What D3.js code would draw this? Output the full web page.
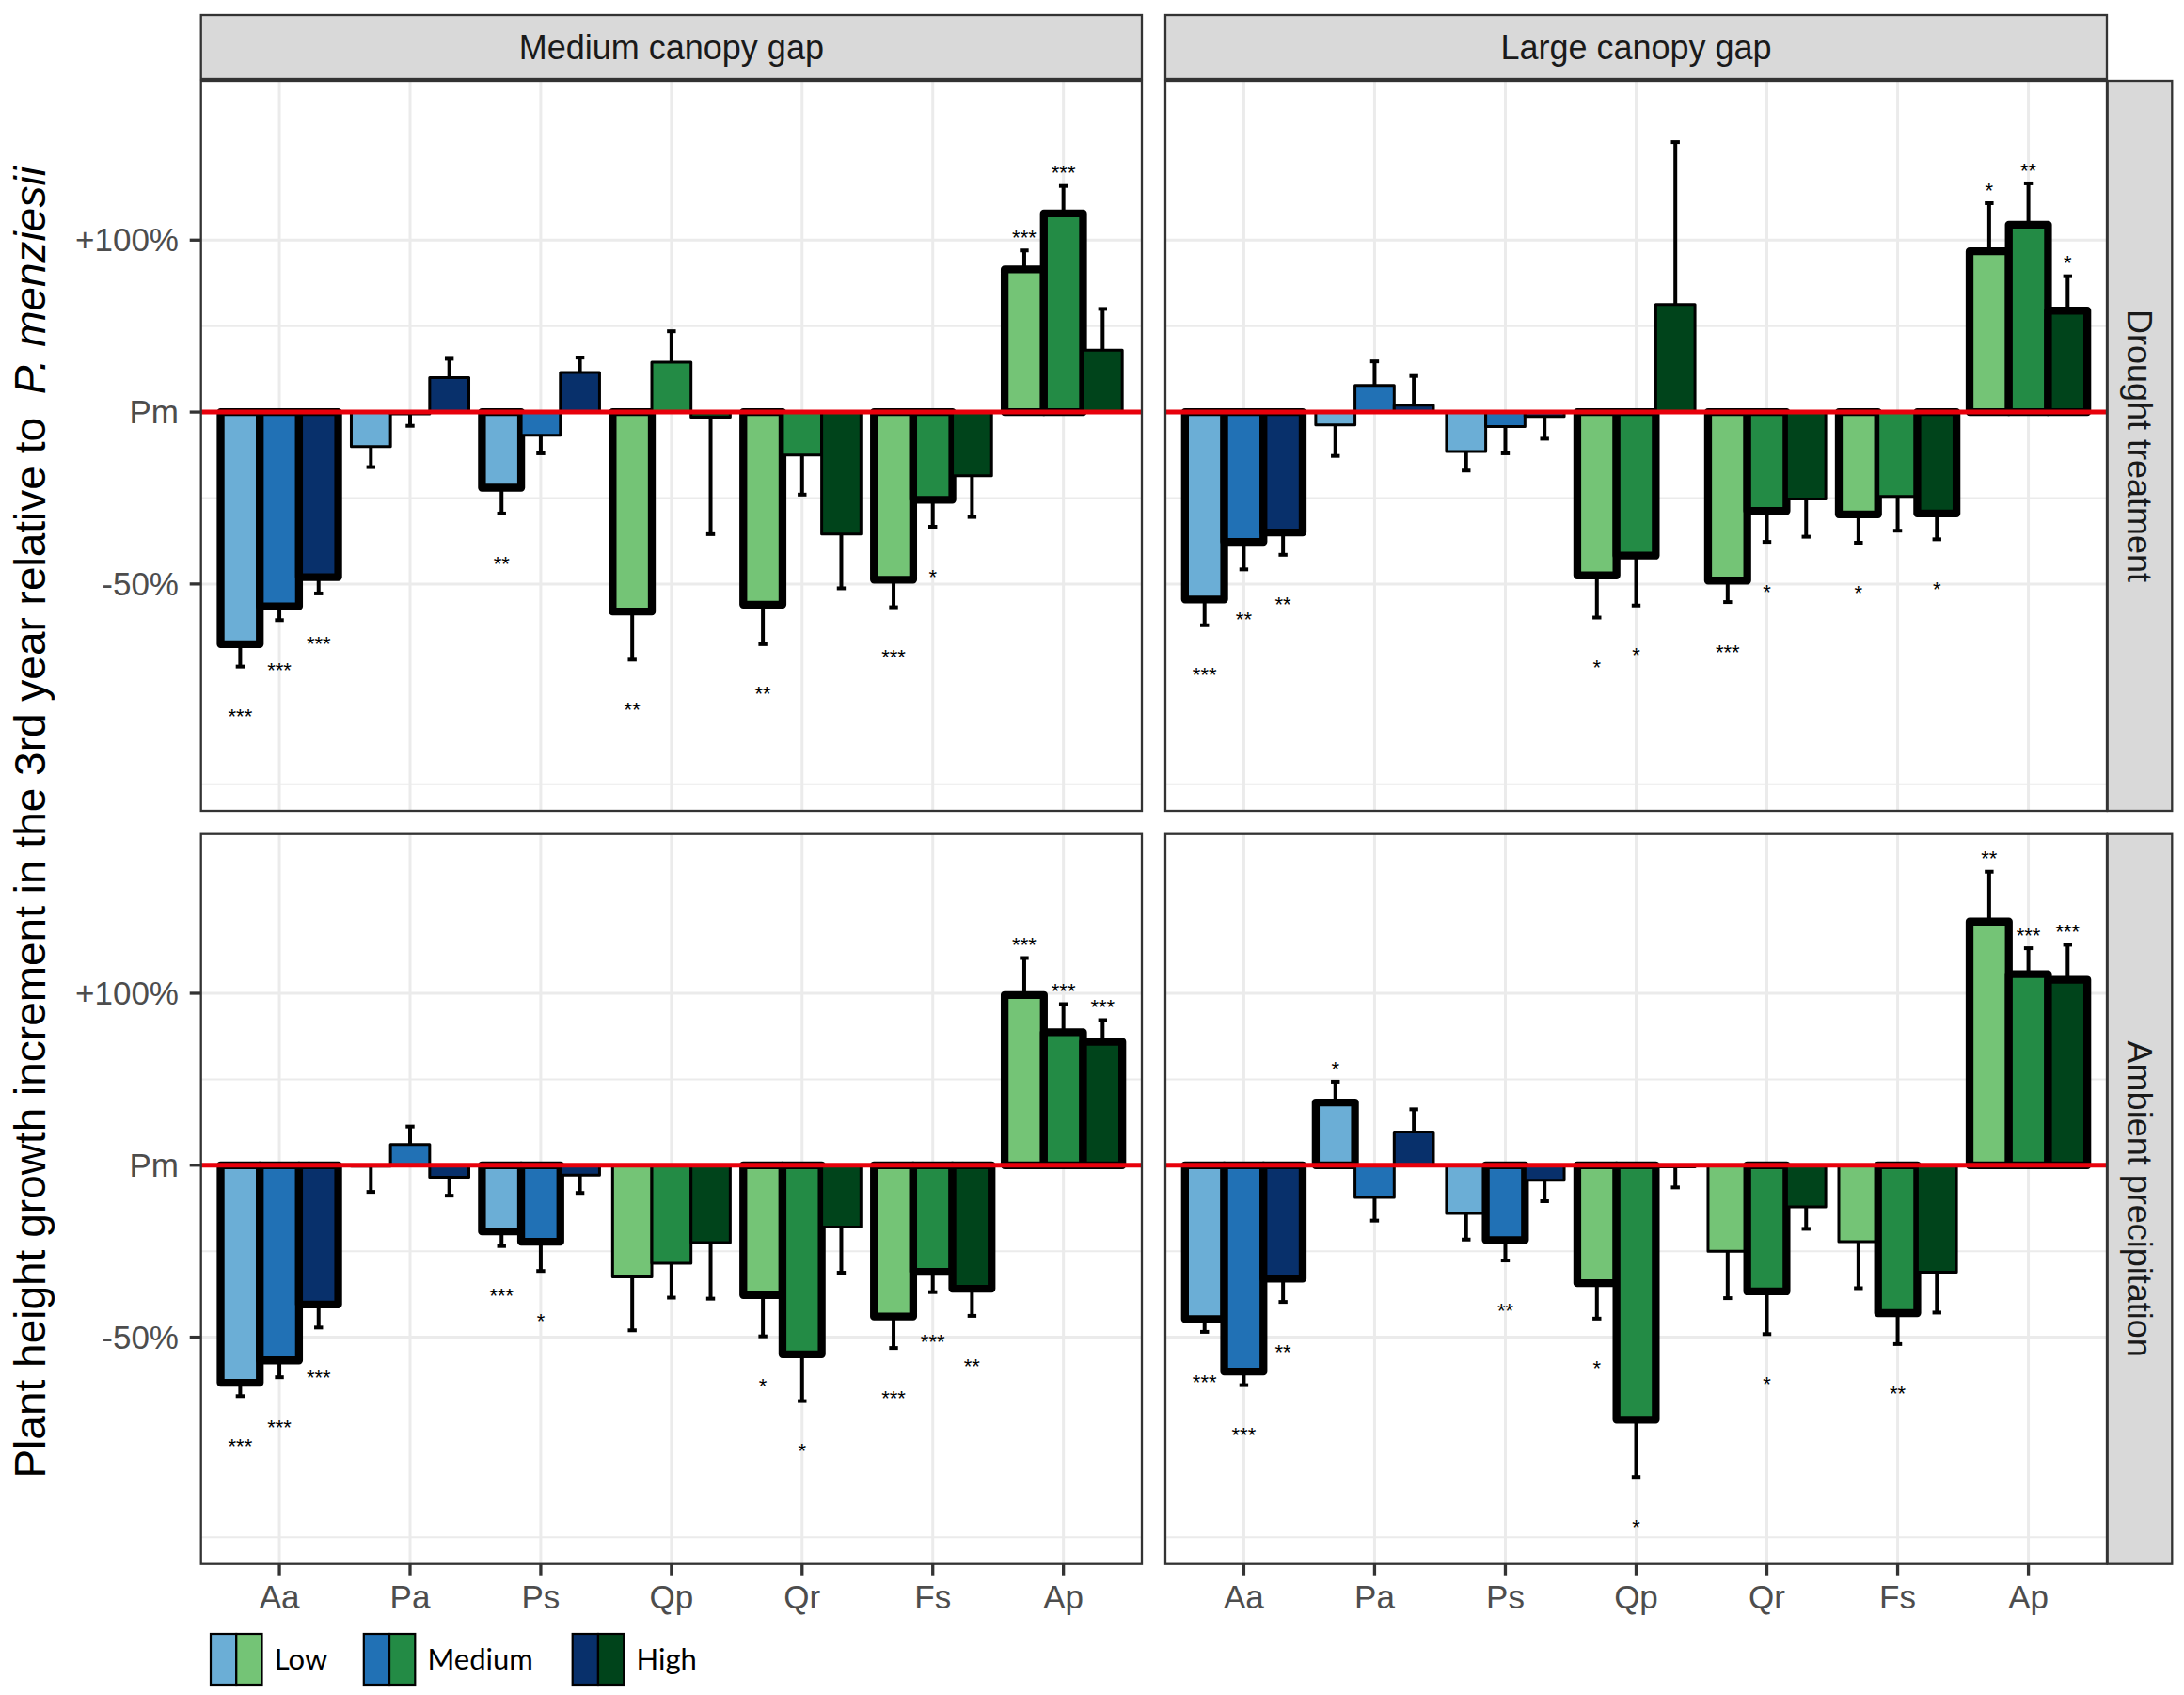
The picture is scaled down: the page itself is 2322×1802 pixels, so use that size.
<!DOCTYPE html>
<html><head><meta charset="utf-8">
<script src="https://cdn.jsdelivr.net/npm/d3@7"></script>
<style>html,body{margin:0;padding:0;background:#fff;} svg{display:block;}</style>
</head><body>
<svg id="chart" width="2322" height="1802"></svg>
<script>
// ---------------- data ----------------
const species = ["Aa","Pa","Ps","Qp","Qr","Fs","Ap"];
const levels = ["Low","Medium","High"];
const gapLabels = ["Medium canopy gap","Large canopy gap"];
const treatmentLabels = ["Drought treatment","Ambient precipitation"];
const blueSpecies = ["Aa","Pa","Ps"];
const blues = ["#6BAED6","#2171B5","#08306B"];
const greens = ["#74C476","#238B45","#00441B"];
const yTickValues = [1, 0, -1];            // log2 ratio to P. menziesii
const yTickLabels = ["+100%","Pm","-50%"];
const yMinorValues = [0.5, -0.5, -1.5/Math.LN2];

// values: log2 growth ratio vs P. menziesii; rows = species, cols = Low/Medium/High
const droughtMediumValues = [
 [-1.35,-1.13,-0.96],[-0.20,-0.01,0.20],[-0.44,-0.135,0.23],[-1.16,0.29,-0.03],
 [-1.12,-0.25,-0.71],[-0.975,-0.51,-0.37],[0.83,1.155,0.36]];
const droughtMediumErrors = [
 [0.13,0.08,0.095],[0.12,0.07,0.11],[0.15,0.105,0.087],[0.28,0.18,0.68],
 [0.23,0.23,0.315],[0.16,0.157,0.24],[0.11,0.16,0.24]];
const droughtMediumStars = [
 ["***","***","***"],["","",""],["**","",""],["**","",""],["**","",""],["***","*",""],["***","***",""]];

const droughtLargeValues = [
 [-1.09,-0.755,-0.70],[-0.075,0.155,0.04],[-0.23,-0.085,-0.025],[-0.95,-0.835,0.625],
 [-0.98,-0.575,-0.505],[-0.595,-0.49,-0.59],[0.935,1.09,0.59]];
const droughtLargeErrors = [
 [0.15,0.16,0.13],[0.18,0.14,0.17],[0.11,0.155,0.13],[0.245,0.29,0.945],
 [0.125,0.18,0.22],[0.165,0.20,0.15],[0.28,0.24,0.20]];
const droughtLargeStars = [
 ["***","**","**"],["","",""],["","",""],["*","*",""],["***","*",""],["*","","*"],["*","**","*"]];

const ambientMediumValues = [
 [-1.265,-1.135,-0.81],[-0.005,0.12,-0.07],[-0.385,-0.445,-0.057],[-0.65,-0.57,-0.45],
 [-0.755,-1.10,-0.36],[-0.88,-0.62,-0.718],[0.99,0.773,0.718]];
const ambientMediumErrors = [
 [0.078,0.098,0.134],[0.15,0.105,0.107],[0.085,0.17,0.104],[0.31,0.20,0.326],
 [0.24,0.272,0.265],[0.183,0.118,0.158],[0.215,0.164,0.126]];
const ambientMediumStars = [
 ["***","***","***"],["","",""],["***","*",""],["","",""],["*","*",""],["***","***","**"],["***","***","***"]];

const ambientLargeValues = [
 [-0.895,-1.20,-0.66],[0.365,-0.187,0.193],[-0.28,-0.435,-0.087],[-0.686,-1.48,-0.01],
 [-0.50,-0.734,-0.242],[-0.444,-0.86,-0.622],[1.417,1.111,1.079]];
const ambientLargeErrors = [
 [0.074,0.079,0.135],[0.121,0.135,0.132],[0.152,0.119,0.122],[0.206,0.333,0.119],
 [0.273,0.248,0.128],[0.271,0.18,0.235],[0.29,0.151,0.203]];
const ambientLargeStars = [
 ["***","***","**"],["*","",""],["","**",""],["*","*",""],["","*",""],["","**",""],["**","***","***"]];

// ---------------- layout ----------------
const colX = [[213.7,1214],[1239,2240]];
const rowY = [[86,862],[886.7,1662.7]];
const stripTop = [16,84];
const stripRight = [2240.7,2309.3];
const yDomain = [-2.319, 1.926];
const axisFont = "'Liberation Sans', Arial, Helvetica, sans-serif";

const panels = [
 {row:0,col:0,v:droughtMediumValues,e:droughtMediumErrors,s:droughtMediumStars},
 {row:0,col:1,v:droughtLargeValues,e:droughtLargeErrors,s:droughtLargeStars},
 {row:1,col:0,v:ambientMediumValues,e:ambientMediumErrors,s:ambientMediumStars},
 {row:1,col:1,v:ambientLargeValues,e:ambientLargeErrors,s:ambientLargeStars}
];

const svg = d3.select("#chart");
svg.append("rect").attr("width",2322).attr("height",1802).attr("fill","#fff");

panels.forEach(p => {
  const [x0,x1] = colX[p.col], [y0,y1] = rowY[p.row];
  const x = d3.scalePoint().domain(species).range([x0,x1]).padding(0.6);
  const y = d3.scaleLinear().domain(yDomain).range([y1,y0]);
  const step = x.step(), bw = 0.3*step;
  const g = svg.append("g");
  g.append("rect").attr("x",x0).attr("y",y0).attr("width",x1-x0).attr("height",y1-y0).attr("fill","#fff");
  // grid
  g.selectAll(".minor").data(yMinorValues).join("line")
    .attr("x1",x0).attr("x2",x1).attr("y1",d=>y(d)).attr("y2",d=>y(d))
    .attr("stroke","#EBEBEB").attr("stroke-width",2);
  g.selectAll(".majh").data(yTickValues).join("line")
    .attr("x1",x0).attr("x2",x1).attr("y1",d=>y(d)).attr("y2",d=>y(d))
    .attr("stroke","#EBEBEB").attr("stroke-width",3);
  g.selectAll(".majv").data(species).join("line")
    .attr("x1",d=>x(d)).attr("x2",d=>x(d)).attr("y1",y0).attr("y2",y1)
    .attr("stroke","#EBEBEB").attr("stroke-width",3);

  const recs = [];
  species.forEach((sp,i) => levels.forEach((lv,j) => {
    const pal = blueSpecies.includes(sp) ? blues : greens;
    recs.push({sp, j, v:p.v[i][j], e:p.e[i][j], star:p.s[i][j], fill:pal[j],
               cx: x(sp) + (j-1)*bw});
  }));
  // bars
  g.selectAll(".bar").data(recs).join("rect")
    .attr("x",d=>d.cx-bw/2).attr("width",bw)
    .attr("y",d=>Math.min(y(d.v),y(0))).attr("height",d=>Math.abs(y(d.v)-y(0)))
    .attr("fill",d=>d.fill).attr("stroke","#000")
    .attr("stroke-width",d=>d.star ? 8.3 : 3).attr("stroke-linejoin","round");
  // error bars
  const endV = d => d.v + (d.v >= 0 ? d.e : -d.e);
  g.selectAll(".eb").data(recs).join("line")
    .attr("x1",d=>d.cx).attr("x2",d=>d.cx).attr("y1",d=>y(d.v)).attr("y2",d=>y(endV(d)))
    .attr("stroke","#000").attr("stroke-width",4);
  g.selectAll(".cap").data(recs).join("line")
    .attr("x1",d=>d.cx-4.7).attr("x2",d=>d.cx+4.7).attr("y1",d=>y(endV(d))).attr("y2",d=>y(endV(d)))
    .attr("stroke","#000").attr("stroke-width",4);
  // reference line
  g.append("line").attr("x1",x0).attr("x2",x1).attr("y1",y(0)).attr("y2",y(0))
    .attr("stroke","#E8000B").attr("stroke-width",5);
  // stars
  g.selectAll(".star").data(recs.filter(d=>d.star)).join("text")
    .attr("x",d=>d.cx)
    .attr("y",d=>{ const c = y(endV(d)) + (d.v>=0 ? -19 : 48); return c + 12.6; })
    .attr("text-anchor","middle").attr("font-family",axisFont).attr("font-size",22)
    .attr("fill","#000").text(d=>d.star);
  // border
  g.append("rect").attr("x",x0).attr("y",y0).attr("width",x1-x0).attr("height",y1-y0)
    .attr("fill","none").attr("stroke","#333333").attr("stroke-width",2.3);

  // y axis
  if (p.col === 0) {
    const ya = svg.append("g");
    ya.selectAll("line").data(yTickValues).join("line")
      .attr("x1",x0-12).attr("x2",x0).attr("y1",d=>y(d)).attr("y2",d=>y(d))
      .attr("stroke","#333333").attr("stroke-width",3.3);
    ya.selectAll("text").data(yTickValues).join("text")
      .attr("x",x0-23.7).attr("y",d=>y(d)+12).attr("text-anchor","end")
      .attr("font-family",axisFont).attr("font-size",35).attr("fill","#4D4D4D")
      .text((d,i)=>yTickLabels[i]);
  }
  // x axis
  if (p.row === 1) {
    const xa = svg.append("g");
    xa.selectAll("line").data(species).join("line")
      .attr("x1",d=>x(d)).attr("x2",d=>x(d)).attr("y1",y1).attr("y2",y1+12)
      .attr("stroke","#333333").attr("stroke-width",3.3);
    xa.selectAll("text").data(species).join("text")
      .attr("x",d=>x(d)).attr("y",1710).attr("text-anchor","middle")
      .attr("font-family",axisFont).attr("font-size",35).attr("fill","#4D4D4D")
      .text(d=>d);
  }
});

// top strips
gapLabels.forEach((lab,c) => {
  const [x0,x1] = colX[c];
  svg.append("rect").attr("x",x0).attr("y",stripTop[0]).attr("width",x1-x0).attr("height",stripTop[1]-stripTop[0])
    .attr("fill","#D9D9D9").attr("stroke","#333333").attr("stroke-width",2.3);
  svg.append("text").attr("x",(x0+x1)/2).attr("y",(stripTop[0]+stripTop[1])/2+12.9)
    .attr("text-anchor","middle").attr("font-family",axisFont).attr("font-size",36)
    .attr("fill","#1A1A1A").text(lab);
});
// right strips
treatmentLabels.forEach((lab,r) => {
  const [y0,y1] = rowY[r];
  svg.append("rect").attr("x",stripRight[0]).attr("y",y0).attr("width",stripRight[1]-stripRight[0]).attr("height",y1-y0)
    .attr("fill","#D9D9D9").attr("stroke","#333333").attr("stroke-width",2.3);
  svg.append("text")
    .attr("transform",`translate(${(stripRight[0]+stripRight[1])/2},${(y0+y1)/2}) rotate(90)`)
    .attr("y",12.9).attr("text-anchor","middle").attr("font-family",axisFont).attr("font-size",36)
    .attr("fill","#1A1A1A").text(lab);
});

// y title
const yt = svg.append("text")
  .attr("transform",`translate(48,${(rowY[0][0]+rowY[1][1])/2}) rotate(-90)`)
  .attr("text-anchor","middle").attr("font-family",axisFont).attr("font-size",46).attr("fill","#000");
yt.append("tspan").text("Plant height growth increment in the 3rd year relative to ");
yt.append("tspan").attr("dx",12).attr("font-style","italic").text("P. menziesii");

// legend
const keyX = [224, 386.8, 608.7];
const textX = [291.8, 454.5, 676.5];
const legend = svg.append("g");
levels.forEach((lv,i) => {
  const kx = keyX[i], ky = 1737, kw = 54.5, kh = 54;
  legend.append("rect").attr("x",kx).attr("y",ky).attr("width",kw/2).attr("height",kh)
    .attr("fill",blues[i]).attr("stroke","#000").attr("stroke-width",2.2);
  legend.append("rect").attr("x",kx+kw/2).attr("y",ky).attr("width",kw/2).attr("height",kh)
    .attr("fill",greens[i]).attr("stroke","#000").attr("stroke-width",2.2);
  legend.append("text").attr("x",textX[i]).attr("y",1775)
    .attr("font-family","Lato, 'Open Sans', sans-serif").attr("font-size",31).attr("fill","#000").text(lv);
});
</script>
</body></html>
